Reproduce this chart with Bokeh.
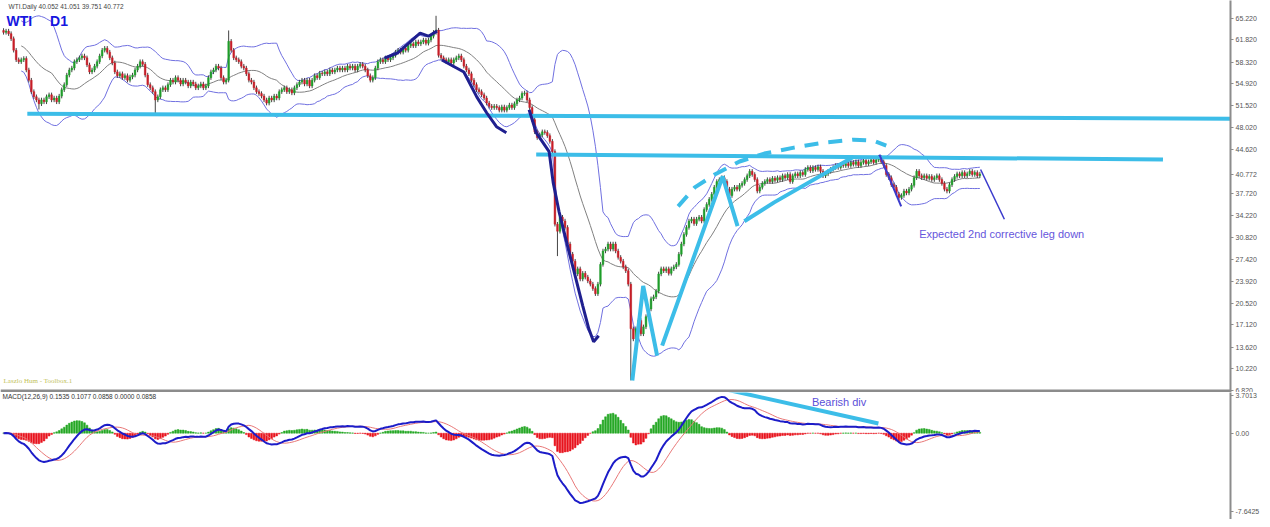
import numpy as np
import pandas as pd
from bokeh.plotting import figure
from bokeh.layouts import column
from bokeh.models import Range1d, FixedTicker, Span, Label, PrintfTickFormatter, ColumnDataSource
from bokeh.embed import file_html
from bokeh.resources import INLINE

# ---------------- data ----------------
title_text = "WTI.Daily 40.052 41.051 39.751 40.772"
macd_text = "MACD(12,26,9) 0.1535 0.1077 0.0858 0.0000 0.0858"
author_text = "Laszlo Hum -  Toolbox.1"
note_text = "Expected 2nd corrective leg down"
div_text = "Bearish div"
last_price = 40.772
price_ticks = [65.22, 61.82, 58.32, 54.92, 51.52, 48.02, 44.62, last_price, 37.72, 34.22, 30.82,
               27.42, 23.92, 20.52, 17.12, 13.62, 10.22, 6.82]
macd_ticks = [3.7013, 0.0, -7.6425]

closes = [
    63.0, 63.2, 62.8, 62.0, 60.2, 58.7, 58.4, 58.7, 58.9, 57.1,
    55.5, 53.7, 52.9, 52.4, 51.8, 52.4, 52.1, 52.9, 53.2, 52.4,
    52.7, 52.1, 53.0, 54.0, 54.8, 56.3, 57.1, 57.4, 58.4, 58.7,
    59.0, 59.3, 59.0, 57.9, 56.8, 57.1, 57.7, 58.4, 59.3, 60.2,
    60.5, 59.9, 59.0, 58.2, 56.8, 56.2, 56.5, 55.9, 56.2, 55.5,
    56.0, 56.3, 57.1, 57.7, 58.4, 58.0, 56.3, 54.8, 54.3, 53.7,
    52.4, 52.9, 54.0, 54.3, 54.0, 54.8, 55.5, 55.2, 55.9, 55.5,
    54.9, 55.5, 55.2, 54.6, 55.2, 54.9, 54.3, 54.6, 54.9, 54.3,
    54.6, 55.9, 56.8, 57.1, 57.7, 57.4, 55.9, 55.2, 55.5, 61.6,
    60.2, 59.0, 58.7, 58.4, 57.7, 57.4, 56.5, 55.5, 55.2, 54.3,
    53.7, 53.4, 53.0, 52.4, 51.9, 52.7, 52.4, 53.0, 52.7, 53.7,
    54.0, 54.3, 53.7, 54.0, 53.5, 54.3, 54.8, 55.2, 55.5, 54.9,
    55.5, 54.6, 55.5, 56.2, 55.9, 56.6, 56.5, 56.8, 56.5, 57.1,
    56.8, 57.1, 57.4, 57.1, 57.4, 57.1, 57.7, 57.4, 57.7, 57.1,
    57.7, 58.0, 57.7, 57.1, 56.2, 55.5, 55.9, 57.4, 58.4, 58.7,
    58.4, 59.0, 58.7, 59.0, 59.4, 59.9, 60.2, 59.9, 60.5, 60.2,
    60.9, 61.2, 60.9, 61.5, 61.2, 61.5, 61.8, 61.3, 61.8, 62.4,
    63.0, 63.35, 59.4, 59.0, 58.7, 58.4, 58.7, 58.2, 58.7, 59.0,
    59.3, 58.7, 57.7, 57.1, 56.5, 55.5, 54.8, 54.0, 53.7, 53.2,
    52.7, 51.9, 51.4, 51.2, 51.4, 51.2, 50.8, 51.3, 50.8, 51.2,
    51.6, 51.2, 51.8, 52.4, 52.7, 53.4, 53.5, 52.4, 51.2, 49.3,
    47.4, 46.5, 46.9, 47.4, 47.3, 46.8, 45.9, 44.3, 32.9, 31.8,
    34.0, 33.4, 32.4, 29.8, 28.2, 27.1, 25.1, 25.9, 24.3, 25.2,
    24.6, 24.0, 23.5, 22.8, 22.0, 23.5, 26.6, 28.7, 29.0, 29.8,
    29.0, 29.8, 28.7, 27.7, 27.1, 26.2, 25.6, 23.5, 16.5, 14.9,
    16.5, 17.8, 15.7, 16.8, 18.4, 19.6, 21.2, 21.5, 22.4, 25.1,
    25.9, 25.6, 25.9, 25.2, 25.9, 26.2, 26.6, 28.2, 29.8, 31.3,
    32.4, 33.4, 33.7, 33.0, 33.7, 34.0, 33.4, 35.2, 36.0, 36.8,
    37.6, 38.7, 39.6, 39.9, 40.2, 39.6, 38.4, 37.4, 38.4, 38.7,
    38.4, 39.0, 39.3, 39.9, 40.5, 41.2, 40.7, 39.9, 38.1, 38.7,
    39.3, 39.6, 39.9, 39.6, 40.1, 39.8, 40.2, 39.9, 40.5, 40.2,
    40.7, 39.6, 40.5, 40.8, 40.5, 41.0, 40.7, 41.5, 41.8, 41.3,
    41.8, 41.5, 41.9, 41.2, 40.5, 40.8, 41.2, 41.5, 41.8, 42.1,
    41.8, 42.3, 42.1, 42.4, 42.1, 42.6, 42.3, 42.7, 42.1, 42.6,
    42.9, 42.4, 42.7, 43.0, 42.6, 43.0, 43.4, 42.7, 42.1, 40.7,
    40.2, 39.1, 38.7, 37.6, 37.1, 37.4, 38.1, 37.8, 38.4, 39.0,
    40.2, 41.2, 40.5, 40.2, 40.5, 40.1, 40.4, 39.9, 40.2, 40.5,
    39.9, 39.3, 38.4, 38.1, 39.1, 39.9, 40.4, 40.8, 40.5, 41.0,
    40.5, 40.8, 41.2, 40.7, 41.0, 40.5, 40.77,
]
first_open = 63.3
high_wicks = {89: 63.3, 171: 65.6}
low_wicks = {14: 50.9, 60: 50.3, 219: 27.9, 248: 8.4}
wick = 0.35

# hand-drawn annotations (bar index, price)
support_x = [9.4, 492.9];      support_y = [50.23, 49.45]
resist_x = [210.6, 458.4];     resist_y = [43.83, 43.05]
zig1_x = [248.6, 252.9, 258.4]; zig1_y = [8.38, 23.22, 12.3]
zig2_x = [260.4, 284.3, 290.2]; zig2_y = [13.85, 40.39, 32.6]
zig3_x = [292.9, 304.7, 336.1]; zig3_y = [33.37, 36.33, 43.5]
arc_x = [266.7, 273.3, 281.2, 291.0, 300.8, 312.5, 324.3, 336.1, 343.9, 349.0]
arc_y = [35.71, 38.68, 40.71, 42.74, 43.99, 44.92, 45.70, 46.17, 46.01, 45.23]
navy1_x = [150.6, 155.7, 164.7, 168.0, 171.4]; navy1_y = [58.97, 59.76, 62.88, 62.4, 63.19]
navy2_x = [173.3, 182.0, 187.1, 191.0, 194.9, 198.8]; navy2_y = [58.66, 56.79, 52.88, 50.39, 48.2, 47.26]
navy3_x = [207.8, 210.6, 215.7, 217.3, 219.6, 223.5, 226.3, 229.0, 231.4, 233.3, 235.3]
navy3_y = [50.85, 47.26, 44.30, 39.46, 34.93, 28.68, 24.31, 20.10, 16.50, 14.47, 15.41]
drop_x = [346.3, 354.9];  drop_y = [43.83, 35.71]
proj_x = [386.3, 395.7];  proj_y = [41.49, 33.68]
div_x = [284.8, 345.9];   div_y = [4.3, 0.94]

# ---------------- derived ----------------
c = np.array(closes)
o = np.concatenate([[first_open], c[:-1]])
h = np.maximum(o, c) + wick
l = np.minimum(o, c) - wick
for k, v in high_wicks.items():
    h[k] = v
for k, v in low_wicks.items():
    l[k] = v
idx = np.arange(len(c))
up = c >= o

s = pd.Series(c)
mid = s.rolling(20, min_periods=8).mean()
sd = s.rolling(20, min_periods=8).std(ddof=0)
upper = mid + 2 * sd
lower = mid - 2 * sd
ema12 = s.ewm(span=12, adjust=False).mean()
ema26 = s.ewm(span=26, adjust=False).mean()
macd = ema12 - ema26
signal = macd.rolling(9, min_periods=1).mean()
hist = macd - signal

FONT = "Liberation Sans"
GREEN = "#1f9e2a"
RED = "#c81e28"
CYAN = "#3cbde8"
NAVY = "#1f1f8f"


def style_axis(ax):
    ax.axis_line_color = "#8c8c8c"
    ax.axis_line_width = 2
    ax.major_tick_in = 0
    ax.major_tick_out = 3
    ax.minor_tick_in = 0
    ax.minor_tick_out = 0
    ax.major_tick_line_color = "#8c8c8c"
    ax.major_label_text_font_size = "7px"
    ax.major_label_text_color = "#555555"
    ax.major_label_text_font = FONT
    ax.major_label_standoff = 2


xr = Range1d(-1.2, 485.1)
p = figure(width=1262, height=392, x_range=xr, y_range=Range1d(6.5, 68.0),
           output_backend="svg", toolbar_location=None,
           y_axis_location="right", x_axis_location=None,
           min_border_left=0, min_border_top=0, min_border_bottom=0, min_border_right=30)
p.xgrid.visible = False
p.ygrid.visible = False
p.outline_line_color = None
style_axis(p.yaxis[0])
p.yaxis[0].ticker = FixedTicker(ticks=price_ticks)
p.yaxis[0].formatter = PrintfTickFormatter(format="%.3f")

# bollinger + middle
p.line(idx, upper, line_color="#7070e0", line_width=1)
p.line(idx, lower, line_color="#7070e0", line_width=1)
p.line(idx, mid, line_color="#808080", line_width=1)

# candles
p.segment(idx, h, idx, l, line_color="#444444", line_width=1)
src_up = ColumnDataSource(dict(x=idx[up], top=c[up], bottom=o[up]))
src_dn = ColumnDataSource(dict(x=idx[~up], top=o[~up], bottom=c[~up]))
p.vbar(x="x", top="top", bottom="bottom", width=0.66, source=src_up,
       fill_color=GREEN, line_color=GREEN, line_width=0.5)
p.vbar(x="x", top="top", bottom="bottom", width=0.66, source=src_dn,
       fill_color=RED, line_color=RED, line_width=0.5)

# annotations
p.line(support_x, support_y, line_color=CYAN, line_width=4)
p.line(resist_x, resist_y, line_color=CYAN, line_width=4)
p.line(zig1_x, zig1_y, line_color=CYAN, line_width=4)
p.line(zig2_x, zig2_y, line_color=CYAN, line_width=4)
p.line(zig3_x, zig3_y, line_color=CYAN, line_width=4)
p.line(arc_x, arc_y, line_color=CYAN, line_width=4, line_dash="14 10")
for xs, ys in ((navy1_x, navy1_y), (navy2_x, navy2_y), (navy3_x, navy3_y)):
    p.line(xs, ys, line_color=NAVY, line_width=3)
p.line(drop_x, drop_y, line_color="#3a3acc", line_width=2)
p.line(proj_x, proj_y, line_color="#3a3acc", line_width=1.5)

p.add_layout(Span(location=6.72, dimension="width", line_color="#8c8c8c", line_width=3))

p.add_layout(Label(x=2.0, y=67.6, text=title_text, text_baseline="top",
                   text_font=FONT, text_font_size="6.5px", text_color="#444444"))
p.add_layout(Label(x=1.2, y=66.0, text="WTI", text_baseline="top", text_font=FONT,
                   text_font_style="bold", text_font_size="14px", text_color="#1616e0"))
p.add_layout(Label(x=18.4, y=66.0, text="D1", text_baseline="top", text_font=FONT,
                   text_font_style="bold", text_font_size="14px", text_color="#1616e0"))
p.add_layout(Label(x=0.0, y=8.9, text=author_text, text_baseline="top",
                   text_font="Liberation Serif", text_font_size="7px", text_color="#c2c25a"))
p.add_layout(Label(x=362.0, y=32.3, text=note_text, text_baseline="top", text_font=FONT,
                   text_font_size="11px", text_color="#6656dc"))

# ---------------- MACD panel ----------------
m = figure(width=1262, height=127, x_range=xr, y_range=Range1d(-8.4, 3.96),
           output_backend="svg", toolbar_location=None,
           y_axis_location="right", x_axis_location=None,
           min_border_left=0, min_border_top=0, min_border_bottom=0, min_border_right=30)
m.xgrid.visible = False
m.ygrid.visible = False
m.outline_line_color = None
style_axis(m.yaxis[0])
m.yaxis[0].ticker = FixedTicker(ticks=macd_ticks)
m.yaxis[0].formatter = PrintfTickFormatter(format="%.4f")
m.yaxis[0].major_label_overrides = {0: "0.00"}

hv = hist.values
pos = hv >= 0
m.vbar(x=idx[pos], top=hv[pos], bottom=0, width=0.7, fill_color="#26a826", line_color="#26a826", line_width=0.5)
m.vbar(x=idx[~pos], top=0, bottom=hv[~pos], width=0.7, fill_color="#e8141e", line_color="#e8141e", line_width=0.5)
m.line(idx, signal, line_color="#e87878", line_width=1)
m.line(idx, macd, line_color="#1c1cc8", line_width=2)
m.line(div_x, div_y, line_color=CYAN, line_width=4)

m.add_layout(Label(x=-0.4, y=3.88, text=macd_text, text_baseline="top",
                   text_font=FONT, text_font_size="6.5px", text_color="#333333"))
m.add_layout(Label(x=319.6, y=3.6, text=div_text, text_baseline="top", text_font=FONT,
                   text_font_size="11px", text_color="#5a4fd8"))

layout = column(p, m, spacing=0)
open("out.html", "w").write(file_html(layout, INLINE))
